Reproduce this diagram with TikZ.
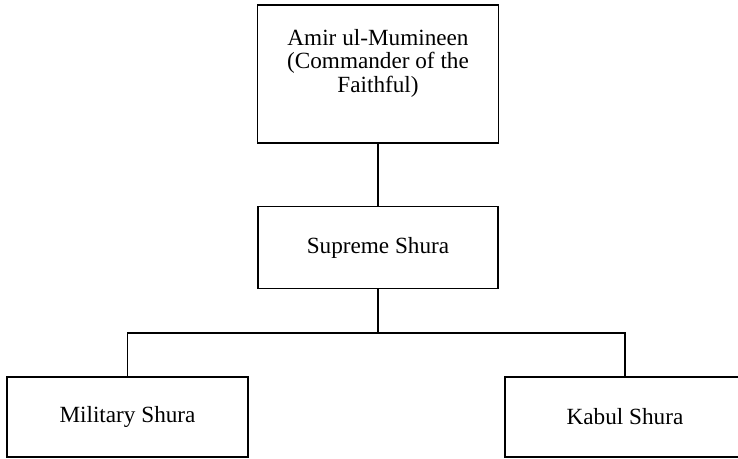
\documentclass[tikz,border=0pt]{standalone}
\usepackage{fontspec}
\setmainfont{Liberation Serif}
\usepackage{tikz}

\tikzset{
	orgbox/.style = {draw, line width=.9pt, rectangle, align=center,
		font=\fontsize{11.6}{11.8}\selectfont, inner sep=0pt},
	orgline/.style = {line width=.9pt}
}

\begin{document}
\begin{tikzpicture}[x=.5pt, y=-.5pt]
	\clip (0,0) rectangle (738,459);
	\node[orgbox, minimum width=120.5pt, minimum height=69pt] (amir) at (378,74) {Amir ul-Mumineen\\(Commander of the\\Faithful)\\[1.5pt]};
	\node[orgbox, minimum width=120pt, minimum height=41pt] (supreme) at (378,247.5) {Supreme Shura};
	\node[orgbox, minimum width=120.5pt, minimum height=40pt] (military) at (127.5,417) {Military Shura};
	\node[orgbox, minimum width=120pt, minimum height=40pt] (kabul) at (625,417) {Kabul Shura};
	\coordinate (bar) at (378,333);
	% links
	\draw[orgline] (amir.south) -- (supreme.north);
	\draw[orgline] (supreme.south) -- (bar);
	\draw[orgline] (military.north) |- (bar) -| (kabul.north);
\end{tikzpicture}
\end{document}
